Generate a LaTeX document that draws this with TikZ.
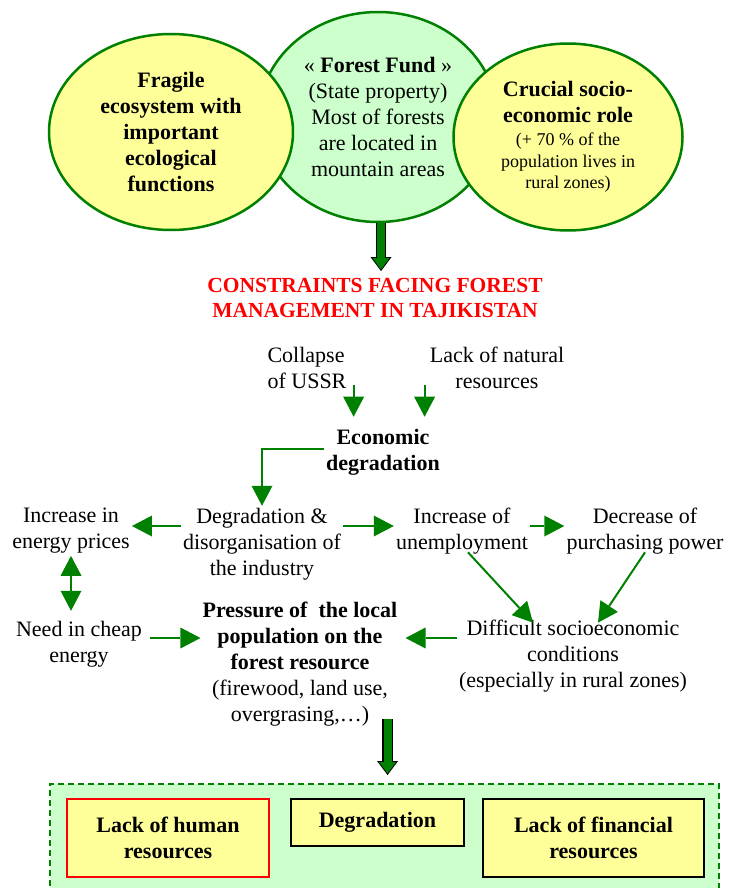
\documentclass[tikz,border=0pt]{standalone}
\usepackage{fontspec}
\setmainfont{Liberation Serif}
\usetikzlibrary{shapes,arrows.meta}

\definecolor{leafgreen}{HTML}{008000}
\definecolor{paleyellow}{HTML}{FFFF99}
\definecolor{palegreen}{HTML}{CCFFCC}
\definecolor{alertred}{HTML}{FF0000}

\tikzset{
  lbl/.style={align=center,inner sep=2pt,font=\fontsize{22}{26}\selectfont},
  boldlbl/.style={lbl,font=\fontsize{22}{26}\selectfont\bfseries},
  bubble/.style={shape=ellipse,draw=leafgreen,line width=2.5pt,inner sep=0pt,align=center,font=\fontsize{22}{26}\selectfont},
  box/.style={shape=rectangle,draw=black,fill=paleyellow,line width=2.5pt,align=center,font=\fontsize{22}{26}\selectfont\bfseries},
  conn/.style={draw=leafgreen,line width=2pt,-{Triangle[length=20pt,width=21pt,line width=0pt]}},
  bothconn/.style={draw=leafgreen,line width=2pt,{Triangle[length=20pt,width=21pt,line width=0pt]}-{Triangle[length=20pt,width=21pt,line width=0pt]}},
  fatout/.style={draw=black,line width=10.5pt,-{Triangle[length=14pt,width=21pt,line width=0pt]}},
  fatin/.style={draw=leafgreen,line width=8pt,-{Triangle[length=11.5pt,width=17pt,line width=0pt]}}
}
\newcommand{\bigbold}[1]{{\fontsize{22}{26}\selectfont\bfseries #1}}

\begin{document}
\begin{tikzpicture}[x=1pt,y=-1pt]
\useasboundingbox (0,0) rectangle (736,888);

\node[bubble,fill=palegreen,minimum width=238,minimum height=210] (fund) at (378,117) {« \textbf{Forest Fund} »\\(State property)\\Most of forests\\are located in\\mountain areas};
\node[bubble,fill=paleyellow,minimum width=244,minimum height=196,font=\fontsize{22}{26}\selectfont\bfseries] (fragile) at (171,132) {Fragile\\ecosystem with\\important\\ecological\\functions};
\node[bubble,fill=paleyellow,minimum width=229,minimum height=187,font=\fontsize{18}{21.5}\selectfont] (crucial) at (568,137) {\bigbold{Crucial socio-}\\[5pt]\bigbold{economic role}\\[1.5pt](+ 70 \% of the\\population lives in\\rural zones)};

\node[lbl,text=alertred,font=\fontsize{21.5}{25}\selectfont\bfseries] (title) at (375,298) {CONSTRAINTS FACING FOREST\\MANAGEMENT IN TAJIKISTAN};

\node[lbl,align=left] (collapse) at (307,368) {Collapse\\of USSR};
\node[lbl] (lack) at (497,368) {Lack of natural\\resources};
\node[boldlbl] (econ) at (383,452) {Economic\\degradation};

\node[lbl] (degr) at (262,544) {Degradation \&\\disorganisation of\\the industry};
\node[lbl] (energy) at (71,531) {Increase in\\energy prices};
\node[lbl] (unemp) at (462,531) {Increase of\\unemployment};
\node[lbl] (purch) at (645,531) {Decrease of\\purchasing power};

\node[lbl] (cheap) at (79,644) {Need in cheap\\energy};
\node[lbl] (pressure) at (300,664) {\textbf{Pressure of \ the local}\\\textbf{population on the}\\\textbf{forest resource}\\(firewood, land use,\\overgrasing,…)};
\node[lbl] (difficult) at (573,656) {Difficult socioeconomic\\conditions\\(especially in rural zones)};

\node[shape=rectangle,draw=leafgreen,fill=palegreen,dash pattern=on 6pt off 4pt,line width=2pt,minimum width=669,minimum height=116] (panel) at (384.5,842) {};
\node[box,draw=alertred,minimum width=202,minimum height=78] (human) at (168,838) {Lack of human\\resources};
\node[box,minimum width=173,minimum height=47] (degbox) at (377.5,822.5) {Degradation};
\node[box,minimum width=221,minimum height=78] (finance) at (593.5,838) {Lack of financial\\resources};

\draw[fatout,shorten >=5pt] ([xshift=3pt]fund.south) -- ([xshift=3pt]fund.south |- title.north);
\draw[fatin,shorten >=6.5pt] ([xshift=3pt]fund.south) -- ([xshift=3pt]fund.south |- title.north);

\draw[conn,shorten >=10pt] ([xshift=5pt,yshift=6pt]collapse.south east) -- ([xshift=5pt]collapse.south east |- econ.north);
\draw[conn,shorten >=10pt] ([xshift=-3pt,yshift=6pt]lack.south west) -- ([xshift=-3pt]lack.south west |- econ.north);
\draw[conn] ([yshift=3pt]econ.west) -| (degr.north);

\draw[conn] ([yshift=5pt]degr.west |- energy.east) -- ([yshift=5pt]energy.east);
\draw[conn] ([yshift=5pt]degr.east |- unemp.west) -- ([yshift=5pt]unemp.west);
\draw[conn] ([yshift=5pt]unemp.east) -- ([yshift=5pt]purch.west);
\draw[bothconn,shorten >=8pt] (energy.south) -- (energy.south |- cheap.north);
\draw[conn] ([xshift=6pt,yshift=4pt]unemp.south) -- ([xshift=-40pt,yshift=-5pt]difficult.north);
\draw[conn] ([yshift=4pt]purch.south) -- ([xshift=25pt,yshift=-5pt]difficult.north);

\draw[conn,shorten <=6pt] ([yshift=6pt]cheap.east) -- ([yshift=6pt]cheap.east -| pressure.west);
\draw[conn,shorten >=6pt] ([yshift=18pt]difficult.west) -- ([yshift=18pt]difficult.west -| pressure.east);

\draw[fatout,shorten >=8pt] ([xshift=-12pt,yshift=9pt]pressure.south east) -- ([xshift=-12pt]pressure.south east |- panel.north);
\draw[fatin,shorten >=9.5pt] ([xshift=-12pt,yshift=9pt]pressure.south east) -- ([xshift=-12pt]pressure.south east |- panel.north);
\end{tikzpicture}
\end{document}
